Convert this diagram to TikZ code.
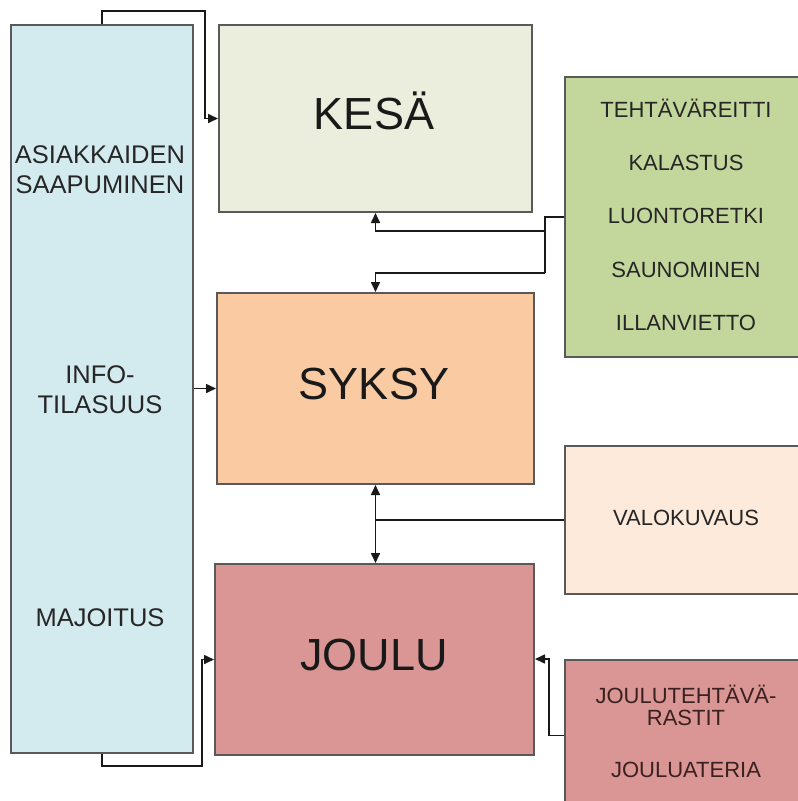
\documentclass[tikz,border=0pt]{standalone}
\usepackage{fontspec}
\setmainfont{Liberation Sans}
\usetikzlibrary{arrows.meta}
\definecolor{lblue}{HTML}{D3EAEF}
\definecolor{kesac}{HTML}{EBEEDD}
\definecolor{syksyc}{HTML}{FACBA3}
\definecolor{jouluc}{HTML}{D99694}
\definecolor{greenc}{HTML}{C3D69B}
\definecolor{valoc}{HTML}{FDEADA}
\definecolor{boxline}{HTML}{595959}
\definecolor{redtext}{HTML}{3A2020}
\begin{document}
\begin{tikzpicture}[x=1pt,y=-1pt,
  box/.style={draw=boxline,line width=2pt,inner sep=0pt,anchor=north west},
  conn/.style={draw=black!90,line width=1.6pt},
  arr/.style={conn,-{Triangle[length=10pt,width=9pt]}},
  title/.style={anchor=base,inner sep=0pt,font=\fontsize{45}{45}\selectfont,text=black!90},
  lefttxt/.style={anchor=base,inner sep=0pt,font=\fontsize{25.5}{25.5}\selectfont,text=black!85},
  righttxt/.style={anchor=base,inner sep=0pt,font=\fontsize{22}{22}\selectfont,text=black!85}]
\useasboundingbox (0,0) rectangle (798,801);
\clip (0,0) rectangle (798,801);
% boxes
\node[box,fill=lblue,minimum width=182pt,minimum height=728pt] (L) at (10,24) {};
\node[box,fill=kesac,minimum width=313pt,minimum height=187pt] (K) at (218,24) {};
\node[box,fill=syksyc,minimum width=317pt,minimum height=191pt] (S) at (216,292) {};
\node[box,fill=jouluc,minimum width=319pt,minimum height=191pt] (J) at (214,563) {};
\node[box,fill=greenc,minimum width=244pt,minimum height=280pt] (G) at (564,76) {};
\node[box,fill=valoc,minimum width=244pt,minimum height=148pt] (V) at (564,445) {};
\node[box,fill=jouluc,minimum width=244pt,minimum height=151pt] (JT) at (564,659) {};
% titles
\node[title] (tk) at (374,129) {KESÄ};
\node[title] (ts) at (374,399) {SYKSY};
\node[title] (tj) at (374,670) {JOULU};
% left texts
\node[lefttxt] (l1) at (100,163) {ASIAKKAIDEN};
\node[lefttxt] (l2) at (100,193) {SAAPUMINEN};
\node[lefttxt] (l3) at (100,383) {INFO-};
\node[lefttxt] (l4) at (100,413) {TILASUUS};
\node[lefttxt] (l5) at (100,626) {MAJOITUS};
% right texts
\node[righttxt] (g1t) at (686,117) {TEHTÄVÄREITTI};
\node[righttxt] (g2t) at (686,170) {KALASTUS};
\node[righttxt] (g3t) at (686,223) {LUONTORETKI};
\node[righttxt] (g4t) at (686,277) {SAUNOMINEN};
\node[righttxt] (g5t) at (686,330) {ILLANVIETTO};
\node[righttxt] (vt) at (686,525) {VALOKUVAUS};
\node[righttxt,text=redtext] (jt1) at (686,703) {JOULUTEHTÄVÄ-};
\node[righttxt,text=redtext] (jt2) at (686,725) {RASTIT};
\node[righttxt,text=redtext] (jt3) at (686,777) {JOULUATERIA};
% connectors
\coordinate (t2) at (205,11);
\draw[arr] (L.north) |- (t2) |- (K.west);
\draw[arr] (L.east |- S.west) -- (S.west);
\coordinate (b2) at (202,766);
\draw[arr] (L.south) |- (b2) |- (J.west);
\coordinate (ga) at (545,231);
\coordinate (gb) at (545,273);
\draw[conn] (G.west) -| (gb);
\draw[arr] (ga) -| (K.south);
\draw[arr] (gb) -| (S.south |- S.north);
\coordinate (vj) at (S.south |- V.west);
\draw[conn] (V.west) -- (vj);
\draw[arr] (vj) -- (S.south);
\draw[arr] (vj) -- (J.north -| vj);
\coordinate (jc) at (549,659);
\draw[arr] (JT.west) -| (jc) -- (J.east |- jc);
\end{tikzpicture}
\end{document}
